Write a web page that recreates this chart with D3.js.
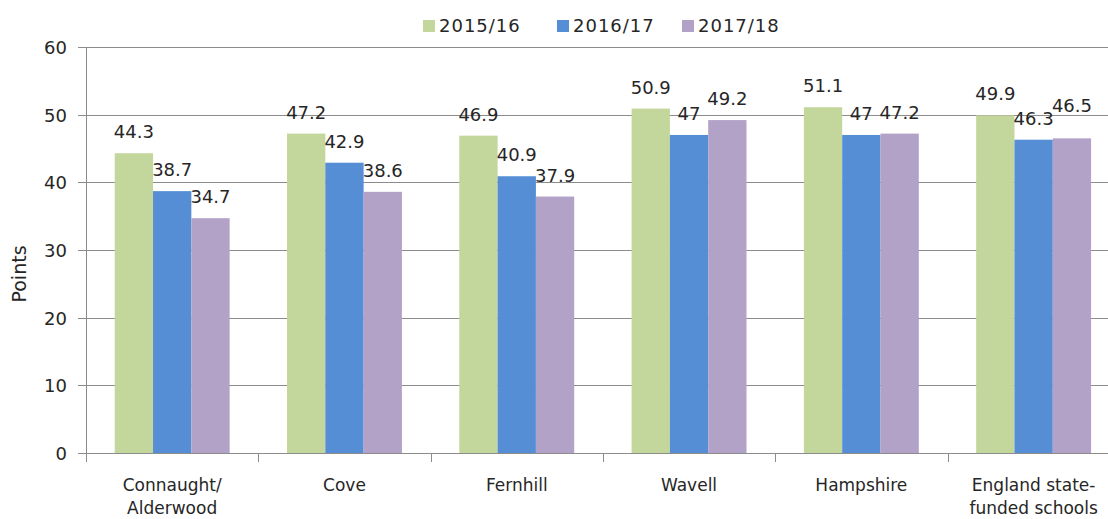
<!DOCTYPE html>
<html>
<head>
<meta charset="utf-8">
<script src="https://cdn.jsdelivr.net/npm/d3@7"></script>
<style>
  body { margin: 0; background: #fff; }
  svg { display: block; font-family: "DejaVu Sans", sans-serif; }
</style>
</head>
<body>
<svg id="chart"></svg>
<script>
// chart data
var categories = [["Connaught/", "Alderwood"], ["Cove"], ["Fernhill"], ["Wavell"], ["Hampshire"], ["England state-", "funded schools"]];
var seriesNames = ["2015/16", "2016/17", "2017/18"];
var values2015 = [44.3, 47.2, 46.9, 50.9, 51.1, 49.9];
var values2016 = [38.7, 42.9, 40.9, 47, 47, 46.3];
var values2017 = [34.7, 38.6, 37.9, 49.2, 47.2, 46.5];
var yTicks = [0, 10, 20, 30, 40, 50, 60];
var colors = ["#c3d69b", "#558ed5", "#b3a2c7"];

var width = 1108, height = 519;
var plotLeft = 86, plotTop = 47, plotBottom = 453;
var step = 172.3;

var svg = d3.select("#chart")
  .attr("width", width)
  .attr("height", height);

var series = [values2015, values2016, values2017];
var data = categories.map(function(c, i) {
  return { cat: i, vals: series.map(function(s) { return s[i]; }) };
});

var x0 = d3.scaleBand()
  .domain(d3.range(categories.length))
  .range([plotLeft, plotLeft + step * categories.length])
  .paddingInner(0.333)
  .paddingOuter(0.1667);

var x1 = d3.scaleBand()
  .domain(d3.range(seriesNames.length))
  .range([0, x0.bandwidth()]);

var y = d3.scaleLinear().domain([0, 60]).range([plotBottom, plotTop]);

// gridlines
svg.append("g")
  .selectAll("line")
  .data(yTicks)
  .enter().append("line")
  .attr("x1", plotLeft - 8)
  .attr("x2", width)
  .attr("y1", d => Math.round(y(d)) + 0.5)
  .attr("y2", d => Math.round(y(d)) + 0.5)
  .style("stroke", "#8c8c8c")
  .style("stroke-width", 1);

// y axis line
svg.append("line")
  .attr("x1", plotLeft + 0.5).attr("x2", plotLeft + 0.5)
  .attr("y1", plotTop).attr("y2", plotBottom + 9)
  .style("stroke", "#8c8c8c");

// x ticks at category boundaries
svg.append("g")
  .selectAll("line")
  .data(d3.range(categories.length + 1))
  .enter().append("line")
  .attr("x1", d => Math.round(plotLeft + d * step) + 0.5)
  .attr("x2", d => Math.round(plotLeft + d * step) + 0.5)
  .attr("y1", plotBottom)
  .attr("y2", plotBottom + 9)
  .style("stroke", "#8c8c8c");

// y tick labels
svg.append("g")
  .selectAll("text")
  .data(yTicks)
  .enter().append("text")
  .attr("x", 67)
  .attr("y", d => y(d) + 7)
  .attr("text-anchor", "end")
  .style("font-size", "18px")
  .style("fill", "#262626")
  .text(d => d);

// y axis title
svg.append("text")
  .attr("transform", "translate(26,274) rotate(-90)")
  .attr("text-anchor", "middle")
  .style("font-size", "19px")
  .style("fill", "#262626")
  .text("Points");

// bars
var groups = svg.append("g")
  .selectAll("g")
  .data(data)
  .enter().append("g")
  .attr("transform", d => "translate(" + x0(d.cat) + ",0)");

groups.selectAll("rect")
  .data(d => d.vals)
  .enter().append("rect")
  .attr("x", (d, i) => x1(i))
  .attr("y", d => y(d))
  .attr("width", x1.bandwidth())
  .attr("height", d => plotBottom - y(d))
  .style("fill", (d, i) => colors[i]);

// data labels, lifted one line when they sit on the same level as the previous one
groups.each(function() {
  var prev = null;
  d3.select(this).selectAll("text.val")
    .data(d => d.vals)
    .enter().append("text")
    .attr("class", "val")
    .attr("x", (d, i) => x1(i) + x1.bandwidth() / 2)
    .attr("y", d => y(d) - 15)
    .attr("text-anchor", "middle")
    .style("font-size", "18px")
    .style("fill", "#262626")
    .text(d => d)
    .each(function() {
      var b = this.getBBox();
      var base = +d3.select(this).attr("y");
      if (prev && b.x < prev.x + prev.width && Math.abs(base - prev.base) < 13) {
        base = prev.base - 13;
        d3.select(this).attr("y", base);
      }
      prev = { x: b.x, width: b.width, base: base };
    });
});

// category labels
var catLabels = svg.append("g")
  .selectAll("text")
  .data(categories)
  .enter().append("text")
  .attr("x", (d, i) => plotLeft + step * i + step / 2)
  .attr("y", 491)
  .attr("text-anchor", "middle")
  .style("font-size", "17px")
  .style("fill", "#262626");

catLabels.selectAll("tspan")
  .data(d => d)
  .enter().append("tspan")
  .attr("x", function() { return d3.select(this.parentNode).attr("x"); })
  .attr("dy", (d, i) => i === 0 ? 0 : 23)
  .text(d => d);

// legend
var legendX = [423, 557, 682];
var legend = svg.append("g")
  .selectAll("g")
  .data(seriesNames)
  .enter().append("g")
  .attr("transform", (d, i) => "translate(" + legendX[i] + ",20)");

legend.append("rect")
  .attr("width", 12)
  .attr("height", 12)
  .style("fill", (d, i) => colors[i]);

legend.append("text")
  .attr("x", 16)
  .attr("y", 12)
  .style("font-size", "18px")
  .style("letter-spacing", "1px")
  .style("fill", "#262626")
  .text(d => d);
</script>
</body>
</html>
